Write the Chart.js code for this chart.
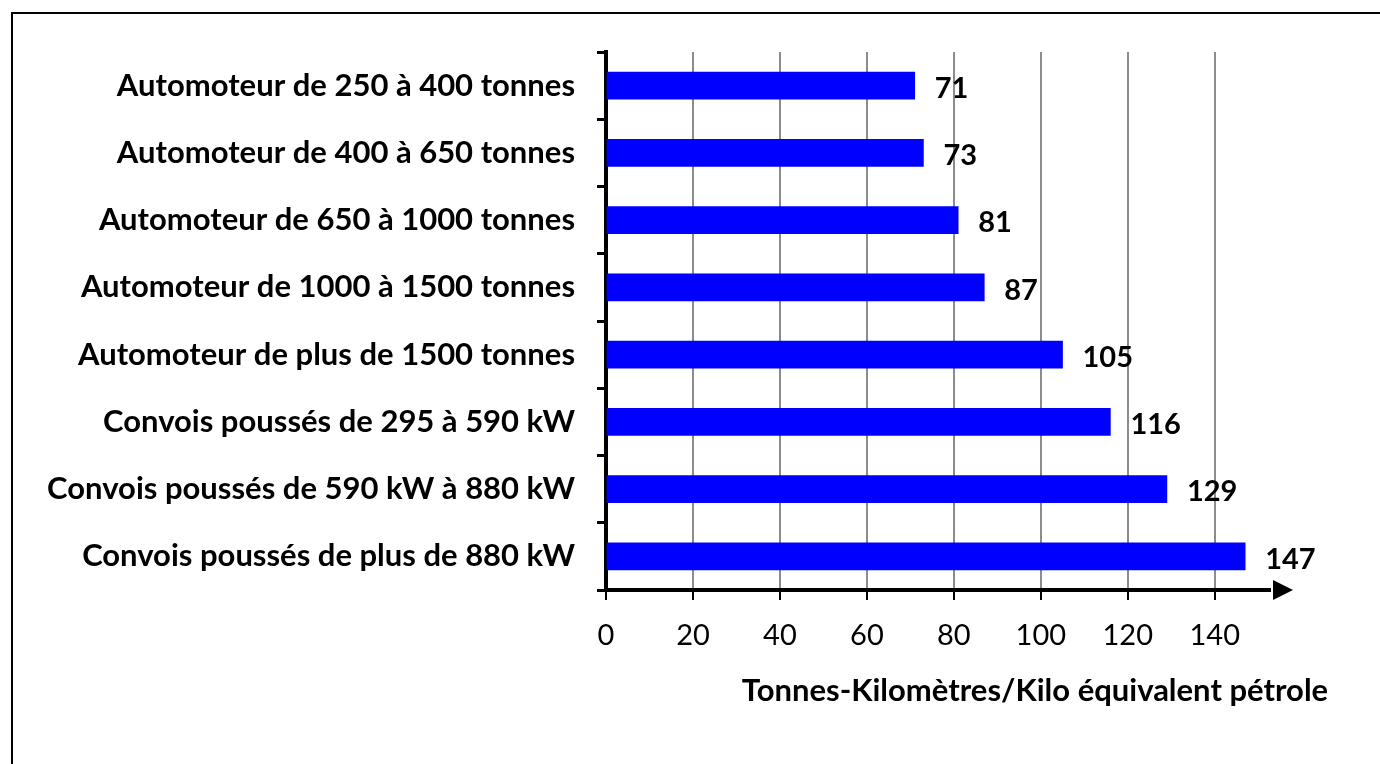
<!DOCTYPE html>
<html>
<head>
<meta charset="utf-8">
<script src="https://cdn.jsdelivr.net/npm/chart.js@4"></script>
<style>
  html, body { margin: 0; padding: 0; background: #fff; }
  #wrap { width: 1380px; height: 764px; position: relative; }
</style>
</head>
<body>
<div id="wrap"><canvas id="myChart"></canvas></div>
<script>
var categories = [
    'Automoteur de 250 à 400 tonnes',
    'Automoteur de 400 à 650 tonnes',
    'Automoteur de 650 à 1000 tonnes',
    'Automoteur de 1000 à 1500 tonnes',
    'Automoteur de plus de 1500 tonnes',
    'Convois poussés de 295 à 590 kW',
    'Convois poussés de 590 kW à 880 kW',
    'Convois poussés de plus de 880 kW'
];
var values = [71, 73, 81, 87, 105, 116, 129, 147];
var xTicks = [0, 20, 40, 60, 80, 100, 120, 140];
var axisTitle = 'Tonnes-Kilomètres/Kilo équivalent pétrole';

var FONT = 'Lato, "Open Sans", sans-serif';

// frame, arrow, value labels, axis title
var decorations = {
    id: 'decorations',
    beforeDraw: function(chart) {
        var c = chart.ctx;
        c.save();
        c.fillStyle = '#fff';
        c.fillRect(0, 0, chart.width, chart.height);
        c.strokeStyle = '#000';
        c.lineWidth = 2;
        c.strokeRect(12, 13, chart.width + 20, chart.height + 20);
        c.restore();
    },
    afterDraw: function(chart) {
        var c = chart.ctx;
        var area = chart.chartArea;
        c.save();
        // arrow head on x axis
        c.fillStyle = '#fff';
        c.fillRect(area.right - 22, area.bottom - 3, 30, 6);
        c.fillStyle = '#000';
        c.beginPath();
        c.moveTo(area.right, area.bottom);
        c.lineTo(area.right - 20, area.bottom - 10);
        c.lineTo(area.right - 20, area.bottom + 10);
        c.closePath();
        c.fill();
        // value labels
        var meta = chart.getDatasetMeta(0);
        c.font = 'bold 29px ' + FONT;
        c.textAlign = 'left';
        c.textBaseline = 'middle';
        meta.data.forEach(function(bar, i) {
            c.fillText(values[i], bar.x + 20, bar.y + 3);
        });
        // axis title
        c.font = 'bold 31px ' + FONT;
        c.textAlign = 'center';
        c.fillText(axisTitle, 1035, 691);
        c.restore();
    }
};

var ctx = document.getElementById('myChart').getContext('2d');
var myChart = new Chart(ctx, {
    type: 'bar',
    data: {
        labels: categories,
        datasets: [{
            data: values,
            backgroundColor: '#0000ff',
            barThickness: 27
        }]
    },
    plugins: [decorations],
    options: {
        indexAxis: 'y',
        responsive: true,
        maintainAspectRatio: false,
        animation: false,
        devicePixelRatio: 1,
        layout: { padding: { left: 0, top: 52, right: 87, bottom: 0 } },
        plugins: { legend: { display: false }, tooltip: { enabled: false } },
        scales: {
            x: {
                min: 0,
                max: 158,
                afterBuildTicks: function(scale) {
                    scale.ticks = xTicks.map(function(v) { return { value: v }; });
                },
                afterFit: function(scale) { scale.height = 174; },
                grid: {
                    color: function(c) { return c.tick && c.tick.value === 0 ? 'rgba(0,0,0,0)' : '#8c8c8c'; },
                    lineWidth: 2,
                    tickColor: '#000',
                    tickLength: 10
                },
                border: { color: '#000', width: 4 },
                ticks: {
                    color: '#000',
                    padding: 18,
                    font: { family: FONT, size: 29 }
                }
            },
            y: {
                afterFit: function(scale) { scale.width = 606; },
                grid: {
                    offset: true,
                    drawOnChartArea: false,
                    tickColor: '#000',
                    tickLength: 9,
                    lineWidth: 3
                },
                border: { color: '#000', width: 4 },
                ticks: {
                    color: '#000',
                    padding: 22,
                    font: { family: FONT, size: 31, weight: 'bold' }
                }
            }
        }
    }
});
</script>
</body>
</html>
